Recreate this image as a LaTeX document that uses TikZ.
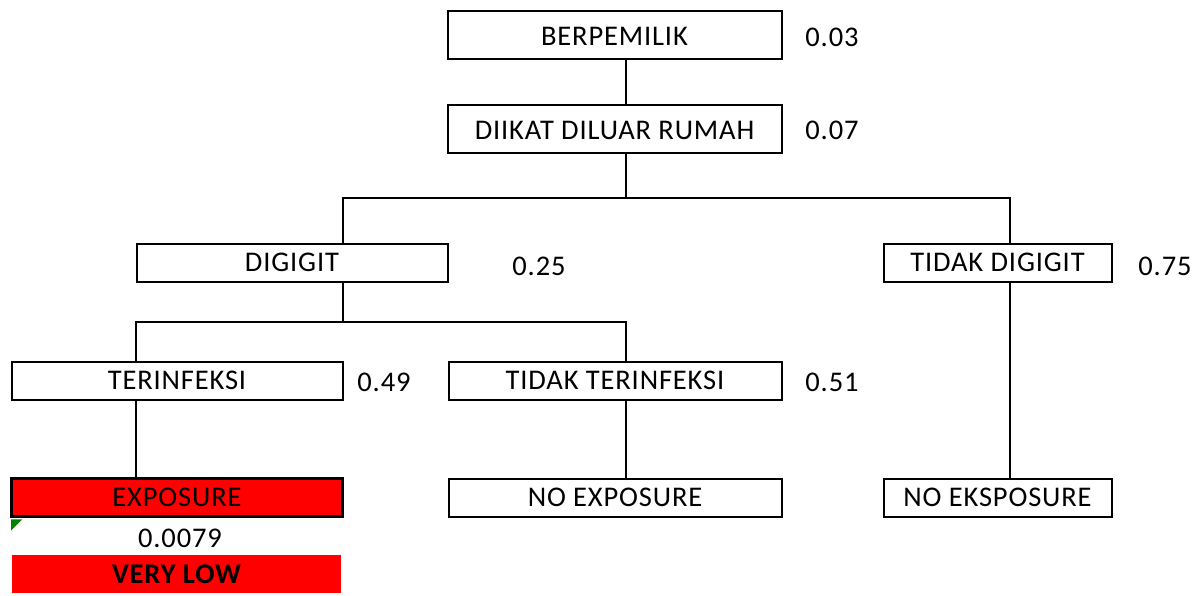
\documentclass[tikz,border=0pt]{standalone}
\usepackage{fontspec}
\setmainfont{Carlito}[LetterSpace=3]
\definecolor{cellred}{RGB}{255,0,0}
\definecolor{markgreen}{RGB}{0,128,0}
\begin{document}
\begin{tikzpicture}[x=1pt,y=-1pt,
  box/.style={draw=black, line width=2pt, inner sep=0pt, minimum height=38pt,
    font=\fontsize{28.5}{33}\selectfont, text=black},
  tall/.style={minimum height=48pt, text height=22.4pt, text depth=0pt},
  hot/.style={fill=cellred},
  flag/.style={fill=cellred, inner sep=0pt, minimum height=38pt,
    font=\fontsize{28.5}{33}\selectfont\bfseries, text=black},
  lbl/.style={inner sep=0pt, font=\fontsize{28.5}{33}\selectfont, text=black},
  link/.style={draw=black, line width=2.6pt, line join=miter}]
  \useasboundingbox (0,0) rectangle (1198,595);

  % connector columns and rows
  \coordinate (cA) at (136,0);
  \coordinate (cB) at (343,0);
  \coordinate (cC) at (626,0);
  \coordinate (cD) at (1010,0);
  \coordinate (r1) at (0,198);
  \coordinate (r2) at (0,322);

  % boxes
  \node[box, tall, minimum width=334pt] (b1) at (614.5,34.5) {BERPEMILIK};
  \node[box, tall, minimum width=334pt] (b2) at (614.5,128.5) {DIIKAT DILUAR RUMAH};
  \node[box, minimum width=311pt] (dig) at (292,262.5) {DIGIGIT};
  \node[box, minimum width=228pt] (tdig) at (997.5,262.5) {TIDAK DIGIGIT};
  \node[box, minimum width=331pt] (ter) at (177,380.5) {TERINFEKSI};
  \node[box, minimum width=333pt] (tter) at (615,380.5) {TIDAK TERINFEKSI};
  \node[box, hot, line width=2.6pt, minimum width=331pt] (exp) at (177,497.5) {EXPOSURE};
  \node[box, minimum width=333pt] (noexp) at (615,497.5) {NO EXPOSURE};
  \node[box, minimum width=228pt] (noeks) at (997.5,497.5) {NO EKSPOSURE};
  \node[flag, minimum width=329pt] (vlow) at (176.5,574) {VERY LOW};

  % probabilities
  \node[lbl] (p1) at (832,37) {0.03};
  \node[lbl] (p2) at (832,130) {0.07};
  \node[lbl] (p3) at (539,266) {0.25};
  \node[lbl] (p4) at (1165,266) {0.75};
  \node[lbl] (p5) at (384,382) {0.49};
  \node[lbl] (p6) at (832,382) {0.51};
  \node[lbl] (p7) at (180,538) {0.0079};

  % cell comment marker
  \fill[markgreen] ([xshift=1pt,yshift=-1.5pt]exp.south west) -- ++(11,0) -- ++(-11,11) -- cycle;

  % connectors
  \draw[link] (b1.south -| cC) -- (b2.north -| cC);
  \draw[link] (b2.south -| cC) -- (cC |- r1);
  \draw[link] (dig.north -| cB) -- (cB |- r1) -- (cD |- r1) -- (tdig.north -| cD);
  \draw[link] (dig.south -| cB) -- (cB |- r2);
  \draw[link] (ter.north -| cA) -- (cA |- r2) -- (cC |- r2) -- (tter.north -| cC);
  \draw[link] (ter.south -| cA) -- (exp.north -| cA);
  \draw[link] (tter.south -| cC) -- (noexp.north -| cC);
  \draw[link] (tdig.south -| cD) -- (noeks.north -| cD);
\end{tikzpicture}
\end{document}
